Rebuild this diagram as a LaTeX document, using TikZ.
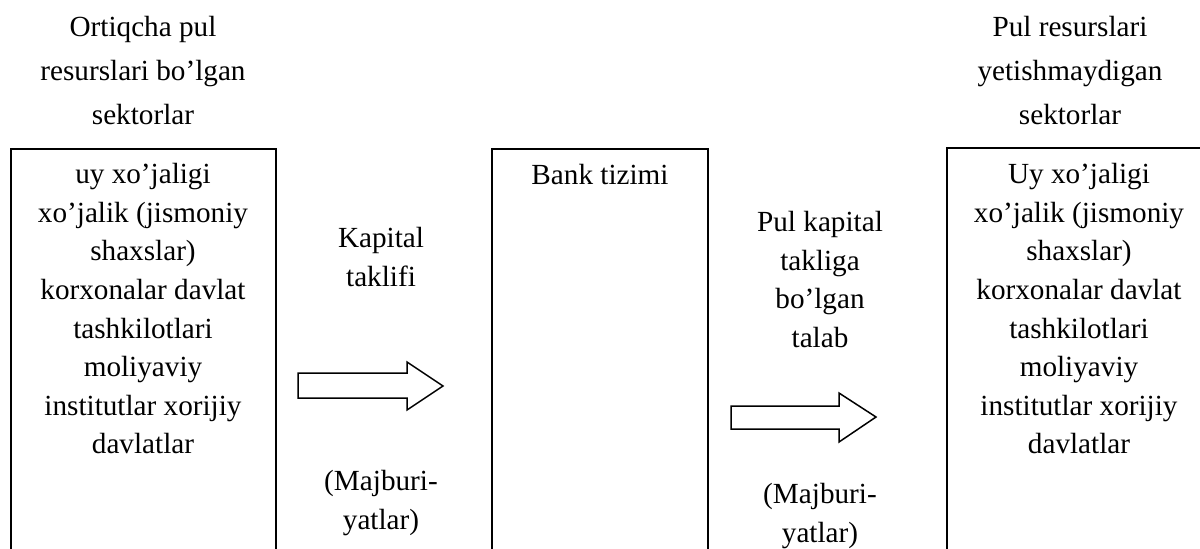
\documentclass[tikz,border=0pt]{standalone}
\usepackage{fontspec}
\setmainfont{Liberation Serif}
\usetikzlibrary{positioning}

\begin{document}
\begin{tikzpicture}[
        x=0.5pt,y=-0.5pt,
        sector/.style={draw,line width=1pt,anchor=north west,inner sep=0pt,
          minimum width=132.5pt,minimum height=210pt},
        txt/.style={align=center,anchor=north,inner sep=0pt,
          font=\fontsize{14.6}{19.3}\selectfont},
        head/.style={txt,font=\fontsize{14.6}{22}\selectfont},
        flow/.style={draw,line width=0.75pt,fill=white,line join=miter}
        ]
        \useasboundingbox (0,0) rectangle (1200,548);

        % sector boxes (open at the bottom of the page)
        \node[sector]                        (surplus) at (10,148)  {};
        \node[sector,minimum width=108pt]    (bank)    at (491,148) {};
        \node[sector,draw=none]              (deficit) at (947,148) {};
        \draw[line width=1pt] (deficit.south west) -- (deficit.north west)
                              -- (deficit.north east);

        % headings above the boxes
        \node[head] (surplushead) at (143,16)  {Ortiqcha pul\\resurslari bo’lgan\\sektorlar};
        \node[head] (deficithead) at (1070,16) {Pul resurslari\\yetishmaydigan\\sektorlar};

        % box contents
        \node[txt] (surplustext) at (143,163)
          {uy xo’jaligi\\xo’jalik (jismoniy\\shaxslar)\\korxonalar davlat\\tashkilotlari\\moliyaviy\\institutlar xorijiy\\davlatlar};
        \node[txt] (banktext)    at (bank.north |- 0,164) {Bank tizimi};
        \node[txt] (deficittext) at (1079,163)
          {Uy xo’jaligi\\xo’jalik (jismoniy\\shaxslar)\\korxonalar davlat\\tashkilotlari\\moliyaviy\\institutlar xorijiy\\davlatlar};

        % flow labels
        \node[txt] (supply)  at (381,227) {Kapital\\taklifi};
        \node[txt] (oblig1)  at (381,470) {(Majburi-\\yatlar)};
        \node[txt] (demand)  at (820,211) {Pul kapital\\takliga\\bo’lgan\\talab};
        \node[txt] (oblig2)  at (820,483) {(Majburi-\\yatlar)};

        % block arrows
        \draw[flow] (298,373) -- (407,373) -- (407,362) -- (443,386)
                    -- (407,410) -- (407,398) -- (298,398) -- cycle;
        \draw[flow] (731,406) -- (839,406) -- (839,393) -- (876,417)
                    -- (839,442) -- (839,429) -- (731,429) -- cycle;
\end{tikzpicture}
\end{document}
